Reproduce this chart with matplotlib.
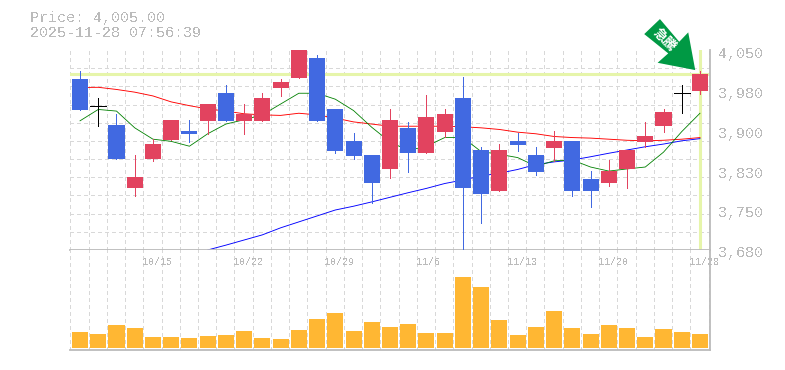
import matplotlib
matplotlib.use('Agg')
import numpy as np
import matplotlib.pyplot as plt
from matplotlib.patches import Polygon
from matplotlib.transforms import Affine2D, ScaledTranslation

plt.rcParams['font.family'] = ['Liberation Mono', 'Noto Sans CJK JP', 'DejaVu Sans']
plt.rcParams['text.antialiased'] = False

# candles, oldest first
opens = [3996, 3946, 3911, 3795, 3848, 3883.5, 3900, 3919, 3970, 3919, 3919, 3980, 3998, 4035, 3941,
         3882, 3856, 3830, 3906, 3859, 3898, 3961, 3865, 3789, 3882, 3856, 3869, 3882, 3811, 3804,
         3830, 3880, 3909, 3970, 3974]
closes = [3939, 3946, 3848, 3815, 3876, 3920.5, 3895, 3950, 3919, 3932, 3961, 3991, 4060, 3919, 3863,
          3854, 3804, 3920, 3859, 3926, 3932, 3795, 3784, 3865, 3874, 3824, 3882, 3789, 3789, 3826,
          3865, 3891, 3935, 3970, 4005]
highs = [4011, 3961, 3932, 3856, 3885, 3920.5, 3920, 3950, 3985, 3950, 3970, 3996, 4060, 4041, 3941,
         3896, 3856, 3941, 3917, 3967, 3941, 4000, 3870.5, 3876, 3896, 3870.5, 3900, 3882, 3826, 3846.5,
         3865, 3917, 3941, 3985, 4011]
lows = [3939, 3909, 3848, 3780, 3845, 3883.5, 3880, 3895, 3919, 3895, 3919, 3965, 3998, 3919, 3859,
        3848, 3767, 3813, 3824, 3859, 3889, 3680, 3730, 3789, 3863, 3819, 3845, 3780, 3760, 3798,
        3795, 3870.5, 3898, 3933, 3969]
volumes = [16, 14, 23, 20, 11, 11, 10, 12, 13, 17, 10, 9, 18, 29, 35, 17, 26, 21,
           24, 15, 15, 71, 61, 28, 13, 21, 37, 20, 14, 23, 20, 11, 19, 16, 14]

# moving averages
ma_short = [3919, 3940, 3937, 3906, 3885, 3881, 3872, 3895, 3913, 3921, 3930, 3950, 3970, 3970, 3959,
            3938, 3907, 3880, 3864, 3872, 3888, 3888, 3862, 3857, 3851, 3835, 3845, 3846.5, 3833.5, 3826,
            3830, 3833.5, 3861, 3899, 3933]
ma_mid = [3980.6, 3981, 3977, 3972, 3965, 3954, 3947, 3941, 3937, 3932, 3930, 3929, 3933, 3930, 3924,
          3917, 3913, 3909, 3909, 3909, 3909, 3908, 3906, 3903, 3898, 3895, 3890, 3888, 3887, 3885,
          3883, 3882, 3883, 3885, 3888]
ma_long = [3680, 3689, 3698.5, 3708, 3721, 3732, 3743, 3754, 3761, 3769, 3777.5, 3786, 3794, 3803,
           3809.5, 3817, 3822, 3829, 3838, 3843, 3846.5, 3852.5, 3859, 3865, 3871, 3876, 3882, 3886]
ma_long_start = 7

date_pos = [4, 9, 14, 19, 24, 29, 34]
date_labels = ['10/15', '10/22', '10/29', '11/6', '11/13', '11/20', '11/28']
price_labels = ['3,680', '3,750', '3,830', '3,900', '3,980', '4,050']
last_price = 4005
title_lines = ['Price: 4,005.00', '2025-11-28 07:56:39']
signal_text = '急騰'

UP = '#e2435f'
DOWN = '#4169e1'
GRAY = '#bbbbbb'
GRID = '#d8d8d8'
W, H = 785, 370
THIN = 0.7

fig = plt.figure(figsize=(W / 100, H / 100), dpi=100)
ax = fig.add_axes([70 / W, 1 - 250 / H, 640 / W, 200 / H])
ax_vol = fig.add_axes([70 / W, 1 - 350 / H, 640 / W, 100 / H], sharex=ax)

x = np.arange(len(opens))
opens = np.array(opens)
closes = np.array(closes)
colors = np.where(closes > opens, UP, DOWN)
colors = np.where(closes == opens, 'black', colors)

ax.set_xlim(-0.55, 34.55)
ax.set_ylim(3680, 4050)
ax_vol.set_ylim(-2, 98)

# grids
grid_x = np.arange(len(opens) + 1) - 0.53
grid_y = np.linspace(3680, 4050, 12)
for a in (ax, ax_vol):
    a.set_axisbelow(True)
    a.set_xticks(grid_x, minor=True)
    a.grid(False)
    a.grid(which='minor', axis='x', color=GRID, lw=THIN, ls=(0, (4, 4)), antialiased=False)
    for side in ('top', 'left'):
        a.spines[side].set_visible(False)
    for side in ('bottom', 'right'):
        a.spines[side].set_color(GRAY)
        a.spines[side].set_linewidth(1.3)
ax.set_yticks(grid_y, minor=True)
ax.grid(which='minor', axis='y', color=GRID, lw=THIN, ls=(0, (4, 4)), antialiased=False)

# current price cross
ax.axhline(last_price, color='#e6f5aa', lw=2.2, zorder=1.5)
ax.axvline(x[-1], ymax=0.995, color='#e6f5aa', lw=2.2, zorder=1.5)

# moving averages
ax.plot(x, ma_mid, color='red', lw=0.65, zorder=2)
ax.plot(x[ma_long_start:], ma_long, color='blue', lw=0.65, zorder=2.1)
ax.plot(x, ma_short, color='green', lw=0.6, zorder=2.2)

# candles
bottoms = np.minimum(opens, closes)
heights = np.abs(closes - opens)
ax.vlines(x, lows, highs, colors=colors, lw=THIN, antialiased=False, zorder=3)
ax.bar(x, heights, bottom=bottoms, width=0.88, color=colors, lw=0, zorder=3.1)
doji = closes == opens
ax.hlines(closes[doji], x[doji] - 0.44, x[doji] + 0.44, colors='black', lw=THIN,
          antialiased=False, zorder=3.2)

# volume
ax_vol.bar(x, volumes, width=0.88, color='#ffb733', lw=0, zorder=3)

# price scale on the right, labels sit just under their tick
ax.yaxis.tick_right()
ax.set_yticks(np.linspace(3680, 4050, 6), price_labels)
ax.tick_params(axis='y', which='both', length=0, pad=6, labelsize=10.8, labelcolor=GRAY)
ax.tick_params(axis='x', which='both', length=0, labelbottom=False)
ax_vol.tick_params(which='both', length=0, labelbottom=False, labelleft=False)
down2 = ScaledTranslation(0, -2 / 100, fig.dpi_scale_trans)
for label in ax.get_yticklabels():
    label.set_transform(label.get_transform() + down2)

# dates inside the volume panel
for pos, label in zip(date_pos, date_labels):
    ax_vol.annotate(label, xy=(pos, 1), xycoords=('data', 'axes fraction'),
                    xytext=(-10.5, -12), textcoords='offset pixels',
                    ha='left', va='center', fontsize=7.2, color=GRAY)

# signal arrow, outline in pixels from its tip
tip = ax.transData.transform((x[-1] - 0.26, highs[-1]))
arrow = [(0, 1), (-37.6, 8.3), (-27, 17.7), (-51, 37), (-35.3, 52), (-16, 29.3), (-7, 38.7)]
to_tip = Affine2D().translate(*tip)
fig.add_artist(Polygon(arrow, closed=True, color='#009944', lw=0, transform=to_tip))
fig.text(664 / W, 1 - 40 / H, signal_text, color='white', fontsize=9.5, fontweight='bold',
         family=['Noto Sans CJK JP'], rotation=-45, ha='center', va='center',
         rotation_mode='anchor', antialiased=True)

# header
fig.text(30 / W, 1 - 18 / H, title_lines[0], color=GRAY, fontsize=10.8, va='center')
fig.text(30 / W, 1 - 33 / H, title_lines[1], color=GRAY, fontsize=10.8, va='center')

fig.savefig('out.png', dpi=100, facecolor='white')
